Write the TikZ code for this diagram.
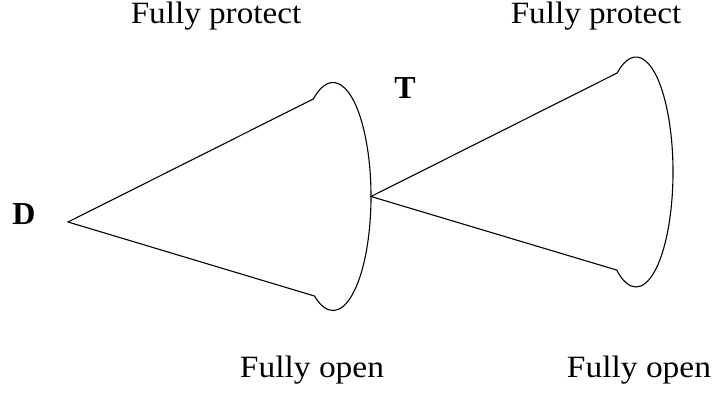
\documentclass[tikz,border=0pt]{standalone}
\usepackage{fontspec}
\setmainfont{Liberation Serif}
\begin{document}
\begin{tikzpicture}[x=1pt,y=1pt,
  conestyle/.style={draw=black, line width=1.1pt, line join=miter},
  protectlbl/.style={inner sep=0pt, anchor=base, font=\fontsize{31}{31}\selectfont, xscale=1.07},
  openlbl/.style={inner sep=0pt, anchor=base, font=\fontsize{31}{31}\selectfont, xscale=1.08},
  boldlbl/.style={inner sep=0pt, anchor=base, font=\fontsize{32}{32}\selectfont\bfseries}]
\useasboundingbox (0,0) rectangle (715,394);
% cone 1
\coordinate (c1) at (333,197.5);
\coordinate (apex1) at (68,172);
\coordinate (a1t) at ([shift={(c1)}]121.2:38 and 114);
\coordinate (apex2) at ([shift={(c1)}]0:38 and 114);
\draw[conestyle] (apex1) -- (a1t) arc[start angle=121.2, end angle=-119.2, x radius=38, y radius=114] -- cycle;
% cone 2
\coordinate (c2) at (636,222);
\coordinate (a2t) at ([shift={(c2)}]120.6:37 and 115);
\draw[conestyle] (apex2) -- (a2t) arc[start angle=120.6, end angle=-121.5, x radius=37, y radius=115] -- cycle;
% labels
\node[boldlbl] (D) at (24,169) {D};
\node[boldlbl] (T) at (405,295) {T};
\node[protectlbl] (p1) at (216,370) {Fully protect};
\node[protectlbl] (p2) at (596,370) {Fully protect};
\node[openlbl] (o1) at (312,17) {Fully open};
\node[openlbl] (o2) at (639,17) {Fully open};
\end{tikzpicture}
\end{document}
